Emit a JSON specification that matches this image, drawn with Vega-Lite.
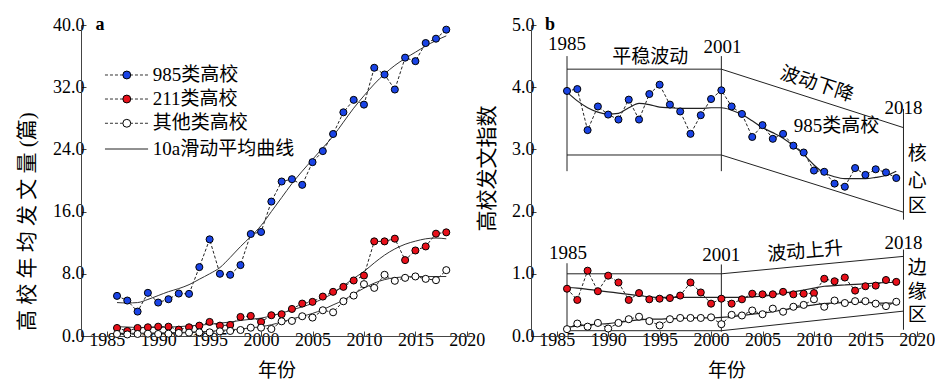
{
"$schema": "https://vega.github.io/schema/vega-lite/v6.json",
"padding": {"left": 16, "top": 16, "right": 0, "bottom": 0},
"bounds": "flush",
"spacing": 59,
"config": {
  "font": "Liberation Serif, Times New Roman, Tinos, DejaVu Serif, Noto Sans CJK SC, serif",
  "view": {"stroke": null},
  "axis": {"domainColor": "#444", "tickColor": "#444", "tickSize": -5, "labelFontSize": 18, "labelColor": "#000", "titleFontSize": 20, "titleFontWeight": "normal", "titleColor": "#000", "grid": false, "labelFont": "Liberation Serif, Times New Roman, Tinos, DejaVu Serif, Noto Sans CJK SC, serif", "titleFont": "Liberation Serif, Times New Roman, Tinos, DejaVu Serif, Noto Sans CJK SC, serif"},
  "text": {"font": "Liberation Serif, Times New Roman, Tinos, DejaVu Serif, Noto Sans CJK SC, serif", "color": "#000"}
},
"datasets": {
"pa": [
{"y":1986,"s":"985类高校","v":5.16,"m":4.3},{"y":1987,"s":"985类高校","v":4.56,"m":4.25},{"y":1988,"s":"985类高校","v":3.14,"m":4.3},{"y":1989,"s":"985类高校","v":5.55,"m":4.7},{"y":1990,"s":"985类高校","v":4.3,"m":5.2},{"y":1991,"s":"985类高校","v":4.73,"m":5.7},{"y":1992,"s":"985类高校","v":5.46,"m":6.1},{"y":1993,"s":"985类高校","v":5.42,"m":6.6},{"y":1994,"s":"985类高校","v":8.86,"m":7.3},{"y":1995,"s":"985类高校","v":12.43,"m":8.0},{"y":1996,"s":"985类高校","v":8.0,"m":8.8},{"y":1997,"s":"985类高校","v":7.87,"m":10.1},{"y":1998,"s":"985类高校","v":9.12,"m":11.5},{"y":1999,"s":"985类高校","v":13.12,"m":12.8},{"y":2000,"s":"985类高校","v":13.38,"m":14.2},{"y":2001,"s":"985类高校","v":17.29,"m":16.0},{"y":2002,"s":"985类高校","v":19.87,"m":17.8},{"y":2003,"s":"985类高校","v":20.17,"m":19.6},{"y":2004,"s":"985类高校","v":19.44,"m":21.2},{"y":2005,"s":"985类高校","v":22.36,"m":22.7},{"y":2006,"s":"985类高校","v":23.78,"m":24.2},{"y":2007,"s":"985类高校","v":25.98,"m":25.7},{"y":2008,"s":"985类高校","v":28.77,"m":27.5},{"y":2009,"s":"985类高校","v":30.37,"m":29.3},{"y":2010,"s":"985类高校","v":29.76,"m":30.9},{"y":2011,"s":"985类高校","v":34.5,"m":32.4},{"y":2012,"s":"985类高校","v":33.63,"m":33.7},{"y":2013,"s":"985类高校","v":31.7,"m":34.8},{"y":2014,"s":"985类高校","v":35.8,"m":35.7},{"y":2015,"s":"985类高校","v":35.35,"m":36.5},{"y":2016,"s":"985类高校","v":37.68,"m":37.3},{"y":2017,"s":"985类高校","v":38.24,"m":38.0},{"y":2018,"s":"985类高校","v":39.4,"m":38.6},
{"y":1986,"s":"211类高校","v":1.03,"m":1.2},{"y":1987,"s":"211类高校","v":0.65,"m":1.15},{"y":1988,"s":"211类高校","v":1.03,"m":1.1},{"y":1989,"s":"211类高校","v":1.12,"m":1.1},{"y":1990,"s":"211类高校","v":1.2,"m":1.1},{"y":1991,"s":"211类高校","v":1.2,"m":1.15},{"y":1992,"s":"211类高校","v":0.82,"m":1.2},{"y":1993,"s":"211类高校","v":1.12,"m":1.3},{"y":1994,"s":"211类高校","v":1.33,"m":1.4},{"y":1995,"s":"211类高校","v":1.81,"m":1.5},{"y":1996,"s":"211类高校","v":1.33,"m":1.65},{"y":1997,"s":"211类高校","v":1.42,"m":1.8},{"y":1998,"s":"211类高校","v":2.45,"m":2.0},{"y":1999,"s":"211类高校","v":2.58,"m":2.15},{"y":2000,"s":"211类高校","v":1.81,"m":2.3},{"y":2001,"s":"211类高校","v":2.67,"m":2.6},{"y":2002,"s":"211类高校","v":2.8,"m":2.95},{"y":2003,"s":"211类高校","v":3.48,"m":3.35},{"y":2004,"s":"211类高校","v":4.17,"m":3.75},{"y":2005,"s":"211类高校","v":4.39,"m":4.2},{"y":2006,"s":"211类高校","v":5.07,"m":4.8},{"y":2007,"s":"211类高校","v":5.68,"m":5.5},{"y":2008,"s":"211类高校","v":6.32,"m":6.45},{"y":2009,"s":"211类高校","v":7.14,"m":7.4},{"y":2010,"s":"211类高校","v":7.78,"m":8.3},{"y":2011,"s":"211类高校","v":12.17,"m":9.4},{"y":2012,"s":"211类高校","v":12.17,"m":10.4},{"y":2013,"s":"211类高校","v":12.52,"m":11.2},{"y":2014,"s":"211类高校","v":9.76,"m":11.8},{"y":2015,"s":"211类高校","v":11.0,"m":12.2},{"y":2016,"s":"211类高校","v":11.52,"m":12.5},{"y":2017,"s":"211类高校","v":13.16,"m":12.6},{"y":2018,"s":"211类高校","v":13.33,"m":12.5},
{"y":1986,"s":"其他类高校","v":0.26,"m":0.35},{"y":1987,"s":"其他类高校","v":0.2,"m":0.35},{"y":1988,"s":"其他类高校","v":0.26,"m":0.35},{"y":1989,"s":"其他类高校","v":0.3,"m":0.38},{"y":1990,"s":"其他类高校","v":0.26,"m":0.4},{"y":1991,"s":"其他类高校","v":0.3,"m":0.42},{"y":1992,"s":"其他类高校","v":0.39,"m":0.45},{"y":1993,"s":"其他类高校","v":0.43,"m":0.5},{"y":1994,"s":"其他类高校","v":0.47,"m":0.55},{"y":1995,"s":"其他类高校","v":0.47,"m":0.6},{"y":1996,"s":"其他类高校","v":0.6,"m":0.7},{"y":1997,"s":"其他类高校","v":0.65,"m":0.8},{"y":1998,"s":"其他类高校","v":0.77,"m":0.9},{"y":1999,"s":"其他类高校","v":1.07,"m":1.05},{"y":2000,"s":"其他类高校","v":1.07,"m":1.2},{"y":2001,"s":"其他类高校","v":0.9,"m":1.45},{"y":2002,"s":"其他类高校","v":1.89,"m":1.8},{"y":2003,"s":"其他类高校","v":1.94,"m":2.2},{"y":2004,"s":"其他类高校","v":2.54,"m":2.55},{"y":2005,"s":"其他类高校","v":2.37,"m":2.9},{"y":2006,"s":"其他类高校","v":3.31,"m":3.4},{"y":2007,"s":"其他类高校","v":3.05,"m":4.0},{"y":2008,"s":"其他类高校","v":4.47,"m":4.6},{"y":2009,"s":"其他类高校","v":5.2,"m":5.4},{"y":2010,"s":"其他类高校","v":6.67,"m":6.15},{"y":2011,"s":"其他类高校","v":6.19,"m":6.8},{"y":2012,"s":"其他类高校","v":7.87,"m":7.25},{"y":2013,"s":"其他类高校","v":7.1,"m":7.5},{"y":2014,"s":"其他类高校","v":7.48,"m":7.6},{"y":2015,"s":"其他类高校","v":7.66,"m":7.65},{"y":2016,"s":"其他类高校","v":7.35,"m":7.65},{"y":2017,"s":"其他类高校","v":7.18,"m":7.65},{"y":2018,"s":"其他类高校","v":8.47,"m":7.65}
],
"pb": [
{"y":1986,"s":"985类高校","v":3.94,"m":3.92},{"y":1987,"s":"985类高校","v":3.97,"m":3.78},{"y":1988,"s":"985类高校","v":3.31,"m":3.67},{"y":1989,"s":"985类高校","v":3.69,"m":3.6},{"y":1990,"s":"985类高校","v":3.56,"m":3.57},{"y":1991,"s":"985类高校","v":3.48,"m":3.58},{"y":1992,"s":"985类高校","v":3.8,"m":3.67},{"y":1993,"s":"985类高校","v":3.48,"m":3.74},{"y":1994,"s":"985类高校","v":3.89,"m":3.72},{"y":1995,"s":"985类高校","v":4.04,"m":3.68},{"y":1996,"s":"985类高校","v":3.72,"m":3.67},{"y":1997,"s":"985类高校","v":3.61,"m":3.66},{"y":1998,"s":"985类高校","v":3.25,"m":3.66},{"y":1999,"s":"985类高校","v":3.55,"m":3.66},{"y":2000,"s":"985类高校","v":3.81,"m":3.67},{"y":2001,"s":"985类高校","v":3.95,"m":3.67},{"y":2002,"s":"985类高校","v":3.69,"m":3.63},{"y":2003,"s":"985类高校","v":3.57,"m":3.56},{"y":2004,"s":"985类高校","v":3.2,"m":3.46},{"y":2005,"s":"985类高校","v":3.39,"m":3.35},{"y":2006,"s":"985类高校","v":3.17,"m":3.27},{"y":2007,"s":"985类高校","v":3.25,"m":3.18},{"y":2008,"s":"985类高校","v":3.06,"m":3.06},{"y":2009,"s":"985类高校","v":2.95,"m":2.92},{"y":2010,"s":"985类高校","v":2.66,"m":2.75},{"y":2011,"s":"985类高校","v":2.64,"m":2.62},{"y":2012,"s":"985类高校","v":2.45,"m":2.56},{"y":2013,"s":"985类高校","v":2.4,"m":2.53},{"y":2014,"s":"985类高校","v":2.7,"m":2.53},{"y":2015,"s":"985类高校","v":2.59,"m":2.53},{"y":2016,"s":"985类高校","v":2.68,"m":2.55},{"y":2017,"s":"985类高校","v":2.63,"m":2.58},{"y":2018,"s":"985类高校","v":2.54,"m":2.65},
{"y":1986,"s":"211类高校","v":0.76,"m":0.78},{"y":1987,"s":"211类高校","v":0.58,"m":0.77},{"y":1988,"s":"211类高校","v":1.05,"m":0.75},{"y":1989,"s":"211类高校","v":0.72,"m":0.73},{"y":1990,"s":"211类高校","v":0.97,"m":0.71},{"y":1991,"s":"211类高校","v":0.86,"m":0.69},{"y":1992,"s":"211类高校","v":0.58,"m":0.67},{"y":1993,"s":"211类高校","v":0.69,"m":0.65},{"y":1994,"s":"211类高校","v":0.59,"m":0.63},{"y":1995,"s":"211类高校","v":0.6,"m":0.62},{"y":1996,"s":"211类高校","v":0.61,"m":0.62},{"y":1997,"s":"211类高校","v":0.65,"m":0.62},{"y":1998,"s":"211类高校","v":0.86,"m":0.62},{"y":1999,"s":"211类高校","v":0.7,"m":0.62},{"y":2000,"s":"211类高校","v":0.52,"m":0.62},{"y":2001,"s":"211类高校","v":0.6,"m":0.62},{"y":2002,"s":"211类高校","v":0.52,"m":0.62},{"y":2003,"s":"211类高校","v":0.59,"m":0.62},{"y":2004,"s":"211类高校","v":0.68,"m":0.63},{"y":2005,"s":"211类高校","v":0.67,"m":0.64},{"y":2006,"s":"211类高校","v":0.67,"m":0.66},{"y":2007,"s":"211类高校","v":0.71,"m":0.69},{"y":2008,"s":"211类高校","v":0.67,"m":0.71},{"y":2009,"s":"211类高校","v":0.68,"m":0.74},{"y":2010,"s":"211类高校","v":0.69,"m":0.77},{"y":2011,"s":"211类高校","v":0.92,"m":0.8},{"y":2012,"s":"211类高校","v":0.88,"m":0.81},{"y":2013,"s":"211类高校","v":0.94,"m":0.82},{"y":2014,"s":"211类高校","v":0.73,"m":0.83},{"y":2015,"s":"211类高校","v":0.8,"m":0.84},{"y":2016,"s":"211类高校","v":0.81,"m":0.85},{"y":2017,"s":"211类高校","v":0.9,"m":0.86},{"y":2018,"s":"211类高校","v":0.87,"m":0.86},
{"y":1986,"s":"其他类高校","v":0.11,"m":0.14},{"y":1987,"s":"其他类高校","v":0.2,"m":0.16},{"y":1988,"s":"其他类高校","v":0.15,"m":0.18},{"y":1989,"s":"其他类高校","v":0.21,"m":0.19},{"y":1990,"s":"其他类高校","v":0.12,"m":0.2},{"y":1991,"s":"其他类高校","v":0.21,"m":0.22},{"y":1992,"s":"其他类高校","v":0.27,"m":0.24},{"y":1993,"s":"其他类高校","v":0.31,"m":0.26},{"y":1994,"s":"其他类高校","v":0.24,"m":0.27},{"y":1995,"s":"其他类高校","v":0.17,"m":0.27},{"y":1996,"s":"其他类高校","v":0.27,"m":0.28},{"y":1997,"s":"其他类高校","v":0.29,"m":0.28},{"y":1998,"s":"其他类高校","v":0.29,"m":0.29},{"y":1999,"s":"其他类高校","v":0.29,"m":0.29},{"y":2000,"s":"其他类高校","v":0.3,"m":0.29},{"y":2001,"s":"其他类高校","v":0.19,"m":0.3},{"y":2002,"s":"其他类高校","v":0.34,"m":0.31},{"y":2003,"s":"其他类高校","v":0.33,"m":0.33},{"y":2004,"s":"其他类高校","v":0.41,"m":0.35},{"y":2005,"s":"其他类高校","v":0.35,"m":0.37},{"y":2006,"s":"其他类高校","v":0.44,"m":0.39},{"y":2007,"s":"其他类高校","v":0.39,"m":0.42},{"y":2008,"s":"其他类高校","v":0.47,"m":0.45},{"y":2009,"s":"其他类高校","v":0.5,"m":0.48},{"y":2010,"s":"其他类高校","v":0.59,"m":0.5},{"y":2011,"s":"其他类高校","v":0.47,"m":0.52},{"y":2012,"s":"其他类高校","v":0.57,"m":0.53},{"y":2013,"s":"其他类高校","v":0.53,"m":0.54},{"y":2014,"s":"其他类高校","v":0.56,"m":0.54},{"y":2015,"s":"其他类高校","v":0.56,"m":0.54},{"y":2016,"s":"其他类高校","v":0.52,"m":0.53},{"y":2017,"s":"其他类高校","v":0.48,"m":0.53},{"y":2018,"s":"其他类高校","v":0.55,"m":0.53}
],
"leg": [
{"s":"985类高校","ly":33.57},{"s":"211类高校","ly":30.48},{"s":"其他类高校","ly":27.36}
],
"leg4": [
{"s":"10a滑动平均曲线","ly":24.05}
],
"rules": [
{"x1":1986,"y1":4.5,"x2":1986,"y2":2.65},{"x1":1986,"y1":4.29,"x2":2001,"y2":4.29},{"x1":1986,"y1":2.91,"x2":2001,"y2":2.91},{"x1":2001,"y1":4.5,"x2":2001,"y2":2.65},{"x1":2001,"y1":4.29,"x2":2018.7,"y2":3.35},{"x1":2001,"y1":2.91,"x2":2018.7,"y2":1.99},{"x1":2018.7,"y1":3.65,"x2":2018.7,"y2":1.87},
{"x1":1986,"y1":1.17,"x2":1986,"y2":0.1},{"x1":1986,"y1":1.0,"x2":2001,"y2":1.0},{"x1":1986,"y1":0.085,"x2":2001,"y2":0.085},{"x1":2001,"y1":1.15,"x2":2001,"y2":0.07},{"x1":2001,"y1":1.0,"x2":2018.7,"y2":1.28},{"x1":2001,"y1":0.085,"x2":2018.7,"y2":0.4},{"x1":2018.7,"y1":1.39,"x2":2018.7,"y2":0.1}
],
"labels": [
{"x":1986,"v":4.69,"t":"1985"},{"x":1994.1,"v":4.48,"t":"平稳波动"},{"x":2001.1,"v":4.64,"t":"2001"},{"x":2018.7,"v":3.67,"t":"2018"},{"x":2012.2,"v":3.38,"t":"985类高校"},
{"x":1986.1,"v":1.33,"t":"1985"},{"x":2001,"v":1.31,"t":"2001"},{"x":2018.7,"v":1.5,"t":"2018"},
{"x":2020.05,"v":2.92,"t":"核"},{"x":2020.05,"v":2.5,"t":"心"},{"x":2020.05,"v":2.09,"t":"区"},
{"x":2020.05,"v":1.09,"t":"边"},{"x":2020.05,"v":0.71,"t":"缘"},{"x":2020.05,"v":0.34,"t":"区"}
]
},
"resolve": {"scale": {"fill": "independent"}},
"hconcat": [
{
  "width": 391, "height": 311,
  "layer": [
    {"data": {"name": "pa"}, "mark": {"type": "line", "strokeDash": [3, 2], "color": "#222", "strokeWidth": 1},
     "encoding": {
       "x": {"field": "y", "type": "quantitative", "scale": {"domain": [1982.5, 2020.5], "nice": false, "zero": false}, "axis": {"values": [1985, 1990, 1995, 2000, 2005, 2010, 2015, 2020], "format": "d", "title": "年份", "titleFontSize": 19, "labelFlush": false, "labelPadding": 0, "titleY": 34, "titleBaseline": "middle"}},
       "y": {"field": "v", "type": "quantitative", "scale": {"domain": [0, 40], "nice": false}, "axis": {"values": [0, 8, 16, 24, 32, 40], "format": ".1f", "title": "高 校 年 均 发 文 量 (篇)", "titleFontSize": 21, "labelPadding": 2, "titleX": -54, "titleY": 196, "titleBaseline": "middle", "titleAlign": "center"}},
       "detail": {"field": "s"}}},
    {"data": {"name": "pa"}, "mark": {"type": "line", "interpolate": "monotone", "color": "#333", "strokeWidth": 1},
     "encoding": {"x": {"field": "y", "type": "quantitative"}, "y": {"field": "m", "type": "quantitative"}, "detail": {"field": "s"}}},
    {"data": {"name": "pa"}, "mark": {"type": "point", "shape": "circle", "filled": true, "size": 50, "stroke": "#000", "strokeWidth": 1, "opacity": 1},
     "encoding": {"x": {"field": "y", "type": "quantitative"}, "y": {"field": "v", "type": "quantitative"},
       "fill": {"field": "s", "type": "nominal", "scale": {"domain": ["985类高校", "211类高校", "其他类高校"], "range": ["#1a44e6", "#e8101a", "#ffffff"]}, "legend": null}}},
    {"data": {"name": "leg"}, "mark": {"type": "rule", "strokeDash": [3, 2], "color": "#333", "strokeWidth": 1},
     "encoding": {"x": {"datum": 1984.83, "type": "quantitative"}, "x2": {"datum": 1989.02}, "y": {"field": "ly", "type": "quantitative"}}},
    {"data": {"name": "leg4"}, "mark": {"type": "rule", "color": "#222", "strokeWidth": 1},
     "encoding": {"x": {"datum": 1984.83, "type": "quantitative"}, "x2": {"datum": 1989.02}, "y": {"field": "ly", "type": "quantitative"}}},
    {"data": {"name": "leg"}, "mark": {"type": "point", "shape": "circle", "filled": true, "size": 62, "stroke": "#000", "strokeWidth": 1, "opacity": 1},
     "encoding": {"x": {"datum": 1986.95, "type": "quantitative"}, "y": {"field": "ly", "type": "quantitative"}, "fill": {"field": "s", "type": "nominal", "legend": null}}},
    {"data": {"name": "leg"}, "mark": {"type": "text", "fontSize": 19, "align": "left", "baseline": "middle"},
     "encoding": {"x": {"datum": 1989.47, "type": "quantitative"}, "y": {"field": "ly", "type": "quantitative"}, "text": {"field": "s"}}},
    {"data": {"name": "leg4"}, "mark": {"type": "text", "fontSize": 19, "align": "left", "baseline": "middle"},
     "encoding": {"x": {"datum": 1989.47, "type": "quantitative"}, "y": {"field": "ly", "type": "quantitative"}, "text": {"field": "s"}}},
    {"data": {"values": [{"x": 1984.35, "v": 40, "t": "a"}]}, "mark": {"type": "text", "fontSize": 18, "fontWeight": "bold", "baseline": "middle"},
     "encoding": {"x": {"field": "x", "type": "quantitative"}, "y": {"field": "v", "type": "quantitative"}, "text": {"field": "t"}}}
  ]
},
{
  "width": 391, "height": 311,
  "layer": [
    {"data": {"name": "rules"}, "mark": {"type": "rule", "color": "#222", "strokeWidth": 1},
     "encoding": {
       "x": {"field": "x1", "type": "quantitative", "scale": {"domain": [1982.5, 2020.5], "nice": false, "zero": false}, "axis": {"values": [1985, 1990, 1995, 2000, 2005, 2010, 2015, 2020], "format": "d", "title": "年份", "titleFontSize": 19, "labelFlush": false, "labelPadding": 0, "titleY": 34, "titleBaseline": "middle"}},
       "y": {"field": "y1", "type": "quantitative", "scale": {"domain": [0, 5], "nice": false}, "axis": {"values": [0, 1, 2, 3, 4, 5], "format": ".1f", "title": "高校发文指数", "titleFontSize": 21, "labelPadding": 2, "titleX": -44, "titleY": 143, "titleBaseline": "middle", "titleAlign": "center"}},
       "x2": {"field": "x2"}, "y2": {"field": "y2"}}},
    {"data": {"name": "pb"}, "mark": {"type": "line", "strokeDash": [3, 2], "color": "#222", "strokeWidth": 1},
     "encoding": {"x": {"field": "y", "type": "quantitative"}, "y": {"field": "v", "type": "quantitative"}, "detail": {"field": "s"}}},
    {"data": {"name": "pb"}, "mark": {"type": "line", "interpolate": "monotone", "color": "#222", "strokeWidth": 1.2},
     "encoding": {"x": {"field": "y", "type": "quantitative"}, "y": {"field": "m", "type": "quantitative"}, "detail": {"field": "s"}}},
    {"data": {"name": "pb"}, "mark": {"type": "point", "shape": "circle", "filled": true, "size": 50, "stroke": "#000", "strokeWidth": 1, "opacity": 1},
     "encoding": {"x": {"field": "y", "type": "quantitative"}, "y": {"field": "v", "type": "quantitative"},
       "fill": {"field": "s", "type": "nominal", "scale": {"domain": ["985类高校", "211类高校", "其他类高校"], "range": ["#1a44e6", "#e8101a", "#ffffff"]}, "legend": null}}},
    {"data": {"name": "labels"}, "mark": {"type": "text", "fontSize": 19, "baseline": "middle"},
     "encoding": {"x": {"field": "x", "type": "quantitative"}, "y": {"field": "v", "type": "quantitative"}, "text": {"field": "t"}}},
    {"data": {"values": [{"x": 2010.3, "v": 4.05, "t": "波动下降"}]}, "mark": {"type": "text", "fontSize": 19, "baseline": "middle", "angle": 18},
     "encoding": {"x": {"field": "x", "type": "quantitative"}, "y": {"field": "v", "type": "quantitative"}, "text": {"field": "t"}}},
    {"data": {"values": [{"x": 2009.15, "v": 1.36, "t": "波动上升"}]}, "mark": {"type": "text", "fontSize": 19, "baseline": "middle", "angle": -5},
     "encoding": {"x": {"field": "x", "type": "quantitative"}, "y": {"field": "v", "type": "quantitative"}, "text": {"field": "t"}}},
    {"data": {"values": [{"x": 1984.35, "v": 5, "t": "b"}]}, "mark": {"type": "text", "fontSize": 18, "fontWeight": "bold", "baseline": "middle"},
     "encoding": {"x": {"field": "x", "type": "quantitative"}, "y": {"field": "v", "type": "quantitative"}, "text": {"field": "t"}}}
  ]
}
]
}
